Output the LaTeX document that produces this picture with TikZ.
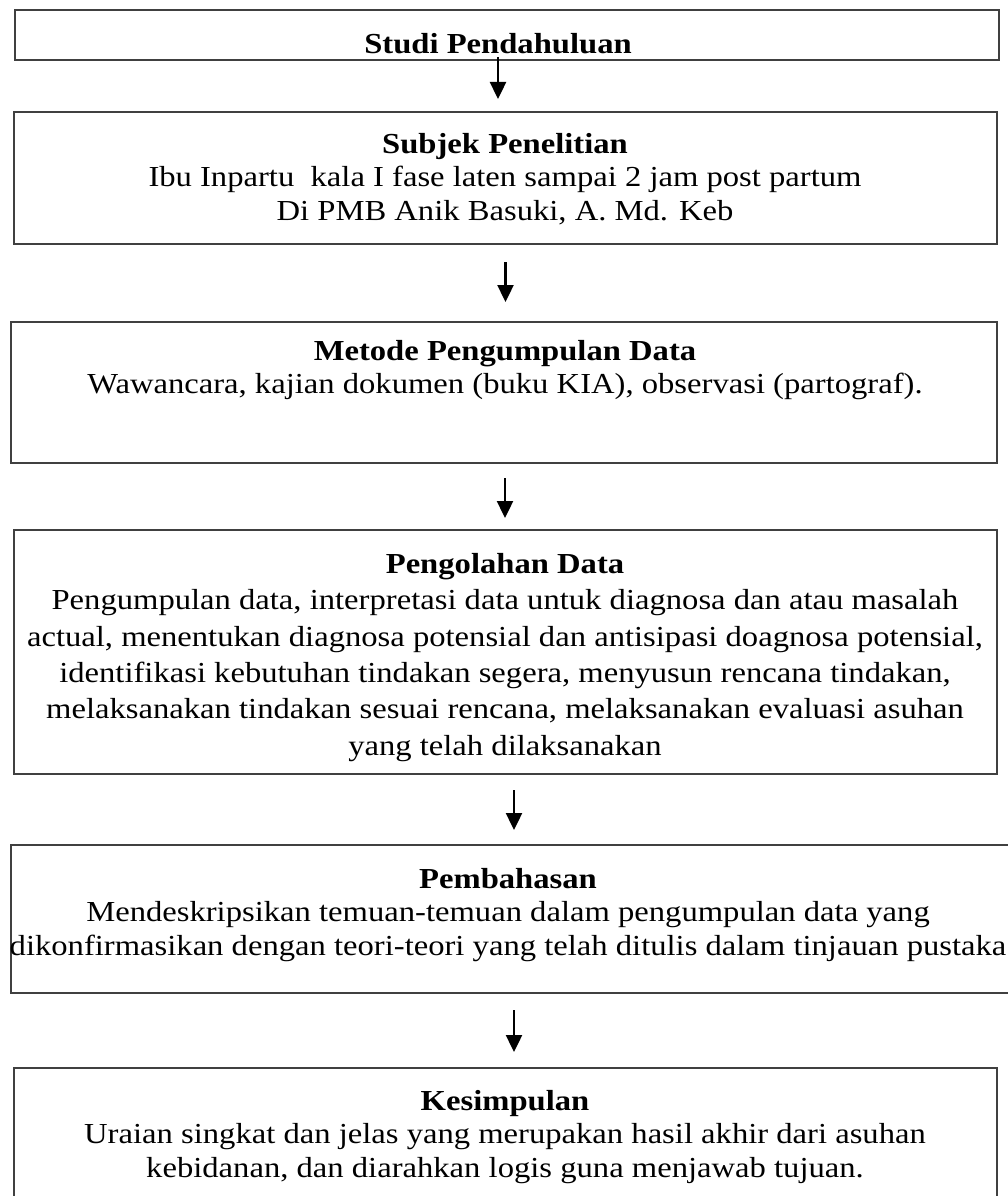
\documentclass[tikz,border=0pt]{standalone}
\usepackage{fontspec}
\setmainfont{Liberation Serif}[FakeStretch=1.125]
\usetikzlibrary{arrows.meta}
\tikzstyle{box}=[draw=black!75,line width=1.4pt,fill=none,inner sep=0pt,outer sep=0pt,anchor=north west]
\tikzstyle{txt}=[align=center,anchor=north,inner sep=0pt,font=\fontsize{29}{33.5}\selectfont]
\tikzstyle{flow}=[draw,line width=2.4pt,-{Triangle[width=16pt,length=17pt]}]

\begin{document}
\begin{tikzpicture}[x=1pt,y=-1pt]
\useasboundingbox (0,0) rectangle (1008,1196);
% kotak
\node[box,minimum width=984pt,minimum height=50pt] (studi) at (15,10) {};
\node[box,minimum width=983pt,minimum height=132pt] (subjek) at (14,112) {};
\node[box,minimum width=986pt,minimum height=141pt] (metode) at (11,322) {};
\node[box,minimum width=983pt,minimum height=244pt] (olah) at (14,530) {};
\node[box,minimum width=1005pt,minimum height=148pt] (bahas) at (11,845) {};
\node[box,minimum width=983pt,minimum height=150pt] (simpul) at (14,1068) {};
% isi
\node[txt] (studi-t) at (498,33) {\textbf{Studi Pendahuluan}};
\node[txt] (subjek-t) at (505,133) {\textbf{Subjek Penelitian}\\
  Ibu Inpartu\ \ kala I fase laten sampai 2 jam post partum\\
  Di PMB Anik Basuki, A. Md. Keb};
\node[txt] (metode-t) at (505,340) {\textbf{Metode Pengumpulan Data}\\
  Wawancara, kajian dokumen (buku KIA), observasi (partograf).};
\node[txt,font=\fontsize{29}{36.4}\selectfont] (olah-t) at (505,553) {\textbf{Pengolahan Data}\\
  Pengumpulan data, interpretasi data untuk diagnosa dan atau masalah\\
  actual, menentukan diagnosa potensial dan antisipasi doagnosa potensial,\\
  identifikasi kebutuhan tindakan segera, menyusun rencana tindakan,\\
  melaksanakan tindakan sesuai rencana, melaksanakan evaluasi asuhan\\
  yang telah dilaksanakan};
\node[txt] (bahas-t) at (508,868) {\textbf{Pembahasan}\\
  Mendeskripsikan temuan-temuan dalam pengumpulan data yang\\
  dikonfirmasikan dengan teori-teori yang telah ditulis dalam tinjauan pustaka};
\node[txt] (simpul-t) at (505,1090) {\textbf{Kesimpulan}\\
  Uraian singkat dan jelas yang merupakan hasil akhir dari asuhan\\
  kebidanan, dan diarahkan logis guna menjawab tujuan.};
% panah
\draw[flow,shorten <=-3pt,shorten >=13pt] ([xshift=-9pt]studi.south) -- ([xshift=-7.5pt]subjek.north);
\draw[flow,shorten <=18pt,shorten >=20pt] (subjek.south) -- ([xshift=1.5pt]metode.north);
\draw[flow,shorten <=15pt,shorten >=12pt] ([xshift=1pt]metode.south) -- ([xshift=-0.5pt]olah.north);
\draw[flow,shorten <=16pt,shorten >=15pt] ([xshift=8.5pt]olah.south) -- ([xshift=0.5pt]bahas.north);
\draw[flow,shorten <=17pt,shorten >=16pt] ([xshift=0.5pt]bahas.south) -- ([xshift=8.5pt]simpul.north);
\end{tikzpicture}
\end{document}
